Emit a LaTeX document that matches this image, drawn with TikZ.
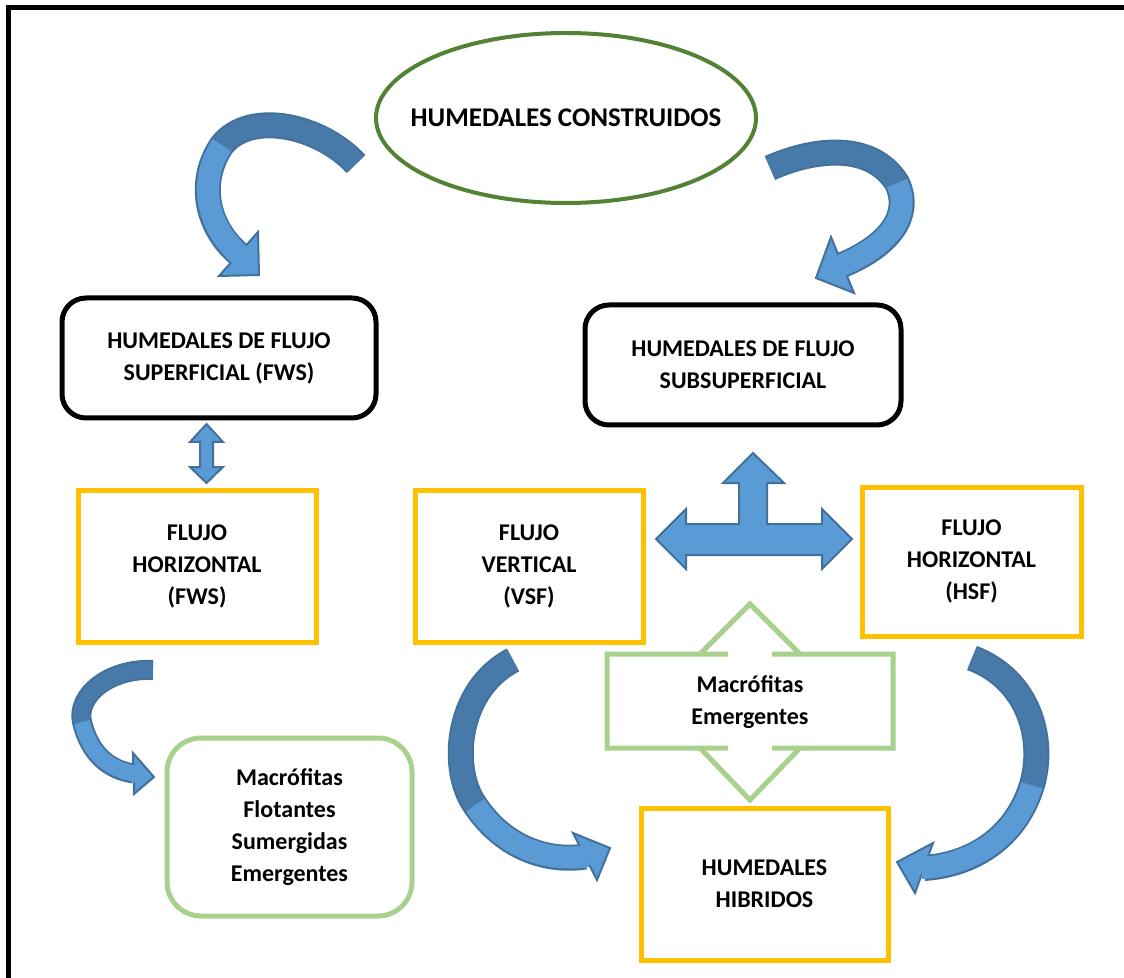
\documentclass[tikz,border=0pt]{standalone}
\usepackage{fontspec}
\setmainfont{Carlito}
\usetikzlibrary{shapes.geometric}

\definecolor{olivegreen}{RGB}{84,130,53}
\definecolor{lightgreen}{RGB}{169,209,142}
\definecolor{amber}{RGB}{255,192,0}
\definecolor{bluefill}{RGB}{91,155,213}
\definecolor{bluedark}{RGB}{71,122,169}
\definecolor{blueline}{RGB}{65,113,156}

\begin{document}
\begin{tikzpicture}[x=0.5pt,y=-0.5pt,
	txt/.style={font=\fontsize{12}{16}\selectfont\bfseries, align=center},
	blackbox/.style={txt, draw=black, line width=2.5pt, rounded corners=12pt, minimum width=157pt, minimum height=60pt},
	yellowbox/.style={txt, draw=amber, line width=2.5pt, minimum height=76pt},
	greenbox/.style={txt, draw=lightgreen, line width=2.5pt, rounded corners=17pt},
	bandedge/.style={draw=blueline, line width=13pt},
	banddark/.style={draw=bluedark, line width=11pt},
	bandlight/.style={draw=bluefill, line width=11pt, shorten >=-1.5pt},
	blockarrow/.style={fill=bluefill, draw=blueline, line width=1pt, line join=miter}]
	\useasboundingbox (0,0) rectangle (1124,978);
	% frame
	\draw[line width=2.5pt] (8.5,978) -- (8.5,7.5) -- (1124,7.5);

	\node[ellipse, draw=olivegreen, line width=2pt, inner sep=0pt, minimum width=190pt, minimum height=85pt,
	      label={[font=\fontsize{13.5}{16}\selectfont\bfseries]center:HUMEDALES CONSTRUIDOS}] (cw) at (566,118) {};
	\node[blackbox] (fws) at (219,358) {HUMEDALES DE FLUJO\\SUPERFICIAL (FWS)};
	\node[blackbox, minimum width=158pt] (ssf) at (743,365) {HUMEDALES DE FLUJO\\SUBSUPERFICIAL};
	\node[yellowbox, minimum width=119pt] (hfws) at (197,566) {FLUJO\\HORIZONTAL\\(FWS)};
	\node[yellowbox, minimum width=114pt] (vsf) at (529,566) {FLUJO\\VERTICAL\\(VSF)};
	\node[yellowbox, minimum width=109.5pt, minimum height=74.5pt] (hsf) at (971.5,561.5) {FLUJO\\HORIZONTAL\\(HSF)};
	\node[yellowbox, minimum width=123.5pt] (hib) at (764.5,884) {HUMEDALES\\HIBRIDOS};
	\node[greenbox, minimum width=122.5pt, minimum height=89pt] (mac) at (289.5,827)
	      {Macrófitas\\Flotantes\\Sumergidas\\Emergentes};

	% callout with arrows up and down
	\draw[lightgreen, line width=2.5pt, fill=white, line join=miter]
	      (607,654) -- (728,654) -- (700,654) -- (750,604) -- (800,654) -- (772,654) -- (893,654)
	      -- (893,748) -- (772,748) -- (800,748) -- (750,800) -- (700,748) -- (728,748) -- (607,748) -- cycle;
	\fill[white] (729.5,650) rectangle (770.5,658) (729.5,744) rectangle (770.5,752);
	\node[txt] (em) at (750,702) {Macrófitas\\Emergentes};

	% straight block arrows
	\draw[blockarrow] (206.5,424) -- (223,442) -- (213,442) -- (213,467) -- (223,467) -- (206.5,483)
	      -- (190,467) -- (200,467) -- (200,442) -- (190,442) -- cycle;
	\draw[blockarrow] (753,453) -- (784,483) -- (767,483) -- (767,524) -- (822,524) -- (822,509)
	      -- (852,539) -- (822,569) -- (822,555) -- (686,555) -- (686,569) -- (656,539) -- (686,509)
	      -- (686,524) -- (739,524) -- (739,483) -- (723,483) -- cycle;

	% curved arrows
	\coordinate (a1) at (356,164); \coordinate (a2) at (222,145); \coordinate (a3) at (238.5,254);
	\draw[bandedge] (a1) .. controls (320,125) and (250,110) .. (a2) .. controls (198,180) and (205,225) .. (a3);
	\draw[blockarrow] (258,232) -- (259,275) -- (219,276) -- cycle;
	\draw[banddark] (a1) .. controls (320,125) and (250,110) .. (a2);
	\draw[bandlight] (a2) .. controls (198,180) and (205,225) .. (a3);

	\coordinate (b1) at (770,168); \coordinate (b2) at (897,183); \coordinate (b3) at (842.5,265);
	\draw[bandedge] (b1) .. controls (810,150) and (870,140) .. (b2) .. controls (912,215) and (890,245) .. (b3);
	\draw[blockarrow] (831,237) -- (816,278) -- (854,293) -- cycle;
	\draw[banddark] (b1) .. controls (810,150) and (870,140) .. (b2);
	\draw[bandlight] (b2) .. controls (912,215) and (890,245) .. (b3);

	\coordinate (c1) at (153,670); \coordinate (c2) at (82,722); \coordinate (c3) at (133.5,773.5);
	\draw[bandedge, line width=10pt] (c1) .. controls (110,668) and (76,695) .. (c2) .. controls (90,755) and (110,770) .. (c3);
	\draw[blockarrow] (133,753) -- (154,777) -- (134,794) -- cycle;
	\draw[banddark, line width=8pt] (c1) .. controls (110,668) and (76,695) .. (c2);
	\draw[bandlight, line width=8pt] (c2) .. controls (90,755) and (110,770) .. (c3);

	\coordinate (d1) at (513,660); \coordinate (d2) at (475,805); \coordinate (d3) at (585,856.5);
	\draw[bandedge] (d1) .. controls (455,690) and (450,770) .. (d2) .. controls (505,850) and (550,862) .. (d3);
	\draw[blockarrow] (573,833) -- (610,848) -- (597,880) -- cycle;
	\draw[bandlight] (d2) .. controls (505,850) and (550,862) .. (d3);
	\draw[banddark] (d1) .. controls (455,690) and (450,770) .. (d2);

	\coordinate (e1) at (972,658); \coordinate (e2) at (1032,785); \coordinate (e3) at (924,868);
	\draw[bandedge] (e1) .. controls (1030,680) and (1045,740) .. (e2) .. controls (1015,840) and (970,865) .. (e3);
	\draw[blockarrow] (933,843) -- (897,862) -- (915,893) -- cycle;
	\draw[bandlight] (e2) .. controls (1015,840) and (970,865) .. (e3);
	\draw[banddark] (e1) .. controls (1030,680) and (1045,740) .. (e2);
\end{tikzpicture}
\end{document}
